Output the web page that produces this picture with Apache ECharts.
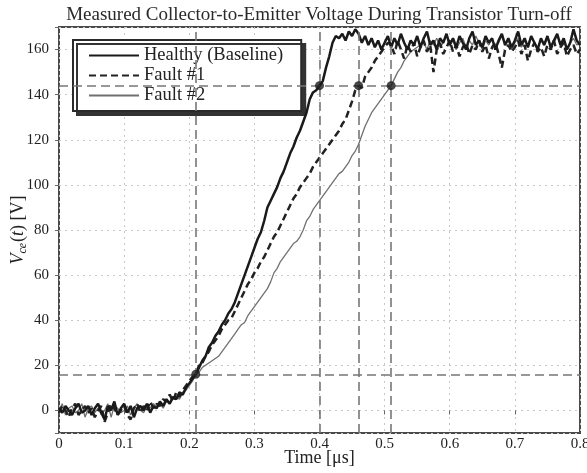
<!DOCTYPE html>
<html><head><meta charset="utf-8">
<script src="https://cdn.jsdelivr.net/npm/echarts@6/dist/echarts.min.js"></script>
<style>html,body{margin:0;padding:0;background:#fff}#c{width:587px;height:473px}</style>
</head><body><div id="c"></div>
<script>
// sampling: one sample every 0.005 µs from 0 to 0.8 µs
const sampleStart = 0;
const sampleStep = 0.005;

const healthy = [
  1, -1, 2, 0, -2, 1, 3, -1, 0, 2,
  -2, 1, 3, -1, -4, 2, 0, 4, -2, 1,
  3, -1, 2, -3, 1, 2, 0, 3, -1, 2,
  1, 4, 2, 5, 3, 6, 5, 8, 7, 10,
  12, 14, 16, 19, 22, 24, 28, 30, 33, 35,
  38, 40, 43, 45, 48, 52, 56, 60, 64, 68,
  72, 76, 79, 84, 90, 93, 96, 99, 103, 106,
  110, 114, 117, 121, 124, 128, 132, 138, 141, 142,
  144, 146, 152, 157, 163, 166, 165, 167, 164, 168,
  166, 169, 167, 163, 166, 162, 165, 161, 164, 160,
  163, 166, 161, 165, 162, 167, 163, 160, 164, 162,
  166, 161, 165, 168, 162, 164, 160, 165, 163, 167,
  162, 165, 161, 166, 163, 160, 165, 168, 162, 164,
  161, 166, 163, 165, 160, 164, 167, 162, 165, 161,
  164, 168, 162, 165, 161, 166, 163, 160, 165, 162,
  166, 161, 164, 167, 162, 165, 160, 163, 169, 164,
  162
];
const fault1 = [
  -1, 2, 0, -3, 1, 3, -2, 0, 2, -1,
  1, -3, 0, 2, -5, -1, 3, 1, -2, 0,
  2, -2, -4, 1, 3, -1, 2, 0, 4, 1,
  3, 2, 5, 4, 7, 4, 8, 6, 9, 11,
  13, 15, 16, 20, 21, 24, 26, 29, 31, 33,
  36, 38, 40, 41, 44, 47, 50, 53, 56, 58,
  61, 63, 66, 68, 71, 74, 77, 79, 82, 85,
  88, 91, 94, 96, 99, 101, 103, 105, 108, 110,
  112, 114, 116, 118, 120, 122, 124, 127, 129, 133,
  137, 142, 144, 143, 148, 150, 152, 155, 157, 159,
  161, 163, 162, 158, 164, 160, 156, 162, 159, 163,
  157, 161, 164, 159, 162, 150, 160, 163, 158, 161,
  164, 159, 162, 157, 161, 163, 158, 162, 160, 164,
  159, 162, 156, 161, 163, 158, 152, 160, 162, 159,
  161, 164, 158, 162, 155, 160, 163, 159, 161, 157,
  162, 160, 164, 158, 161, 163, 157, 160, 162, 158,
  160
];
const fault2 = [
  0, 3, -2, 1, 2, -1, 0, 3, -3, 1,
  2, -1, 1, -2, 0, 3, -3, 2, 1, -1,
  0, 2, -2, 1, 3, 0, -1, 2, 1, 3,
  2, 3, 1, 4, 3, 5, 6, 5, 8, 9,
  11, 13, 16, 17, 19, 20, 21, 22, 23, 24,
  26, 28, 30, 32, 34, 36, 38, 39, 42, 44,
  46, 48, 50, 52, 54, 57, 61, 63, 66, 68,
  70, 72, 74, 75, 77, 80, 84, 86, 89, 91,
  93, 95, 97, 99, 101, 103, 105, 106, 108, 110,
  113, 115, 118, 122, 126, 129, 132, 134, 136, 138,
  140, 142, 144, 147, 150, 152, 155, 157, 159, 160,
  161, 162, 163, 160, 164, 162, 165, 161, 163, 166,
  162, 164, 160, 163, 165, 161, 164, 162, 166, 163,
  160, 164, 162, 165, 161, 163, 166, 162, 164, 160,
  163, 165, 161, 164, 162, 166, 163, 161, 164, 162,
  165, 161, 163, 166, 162, 164, 160, 163, 165, 162,
  163
];
const seriesNames = ['Healthy (Baseline)', 'Fault #1', 'Fault #2'];
const crossTimes = [0.21, 0.40, 0.46, 0.51];     // vertical reference lines
const thresholdLevels = [16, 144];               // 10% / 90% levels
const crossPoints = [[0.21, 16], [0.40, 144], [0.46, 144], [0.51, 144]];
const xTicks = [0, 0.1, 0.2, 0.3, 0.4, 0.5, 0.6, 0.7, 0.8];
const yTicks = [0, 20, 40, 60, 80, 100, 120, 140, 160];

function toPairs(arr) { return arr.map((v, i) => [+(sampleStart + i * sampleStep).toFixed(3), v]); }

const serif = "'Liberation Serif','Times New Roman',serif";
const chart = echarts.init(document.getElementById('c'));
chart.setOption({
  backgroundColor: '#fff',
  animation: false,
  title: {
    text: 'Measured Collector-to-Emitter Voltage During Transistor Turn-off',
    left: 314, textAlign: 'center', top: 1,
    textStyle: { fontFamily: serif, fontSize: 19, fontWeight: 'normal', color: '#2a2a2a' }
  },
  grid: { left: 59, right: 7, top: 27, bottom: 40, show: true, borderColor: '#4a4a4a', borderWidth: 2,
    backgroundColor: '#fff', containLabel: false, outerBoundsMode: 'none' },
  legend: {
    data: seriesNames, orient: 'vertical', left: 73, top: 40,
    backgroundColor: '#fff', borderColor: '#2a2a2a', borderWidth: 2,
    shadowColor: '#333', shadowBlur: 0, shadowOffsetX: 4, shadowOffsetY: 4,
    padding: [6, 18, 6, 15], itemGap: 1, itemWidth: 50, itemHeight: 18, borderRadius: 0,
    itemStyle: { opacity: 0 },
    textStyle: { fontFamily: serif, fontSize: 18.5, color: '#222' }
  },
  xAxis: {
    type: 'value', min: xTicks[0], max: xTicks[xTicks.length - 1], interval: 0.1,
    name: 'Time [\u03bcs]', nameLocation: 'middle', nameGap: 16, nameMoveOverlap: false,
    nameTextStyle: { fontFamily: serif, fontSize: 18, color: '#222', verticalAlign: 'top' },
    axisLine: { show: false },
    axisTick: { show: true, length: 4, lineStyle: { color: '#666' } },
    axisLabel: { fontFamily: serif, fontSize: 15, color: '#222', margin: 4 },
    splitLine: { show: true, lineStyle: { color: '#c8c8c8', type: [2, 4], width: 1 } }
  },
  yAxis: {
    type: 'value', min: -10, max: 170, splitNumber: 9,
    name: '{i|V}{s|ce}{n|(}{i|t}{n|) [V]}', nameLocation: 'middle', nameGap: 30, nameRotate: 90,
    nameMoveOverlap: false,
    nameTextStyle: {
      fontFamily: serif, fontSize: 18, color: '#222',
      rich: {
        i: { fontFamily: serif, fontSize: 18, fontStyle: 'italic', color: '#222' },
        s: { fontFamily: serif, fontSize: 12, fontStyle: 'italic', color: '#222', padding: [10, 1, 0, 0] },
        n: { fontFamily: serif, fontSize: 18, color: '#222' }
      }
    },
    axisLine: { show: false },
    axisTick: { show: true, length: 4, lineStyle: { color: '#666' } },
    axisLabel: { fontFamily: serif, fontSize: 15, color: '#222', margin: 10,
      formatter: v => (yTicks.indexOf(v) >= 0 ? String(v) : '') },
    splitLine: { show: true, lineStyle: { color: '#c8c8c8', type: [2, 4], width: 1 } }
  },
  series: [
    {
      name: 'refs', type: 'scatter', data: crossPoints, z: 5,
      symbol: 'circle', symbolSize: 9, itemStyle: { color: '#1a1a1a' }, silent: true,
      markLine: {
        silent: true, symbol: 'none', label: { show: false }, animation: false,
        lineStyle: { color: '#777', type: [9, 5], width: 1.6 },
        data: crossTimes.map(t => ({ xAxis: t })).concat(thresholdLevels.map(v => ({ yAxis: v })))
      }
    },
    { name: seriesNames[2], type: 'line', data: toPairs(fault2), showSymbol: false, symbol: 'none', z: 2,
      lineStyle: { color: '#707070', width: 1.3 }, itemStyle: { color: '#707070' } },
    { name: seriesNames[1], type: 'line', data: toPairs(fault1), showSymbol: false, symbol: 'none', z: 3,
      lineStyle: { color: '#222', width: 2.5, type: [7, 4] }, itemStyle: { color: '#222' } },
    { name: seriesNames[0], type: 'line', data: toPairs(healthy), showSymbol: false, symbol: 'none', z: 4,
      lineStyle: { color: '#1a1a1a', width: 2.5 }, itemStyle: { color: '#1a1a1a' } }
  ]
});
</script></body></html>
